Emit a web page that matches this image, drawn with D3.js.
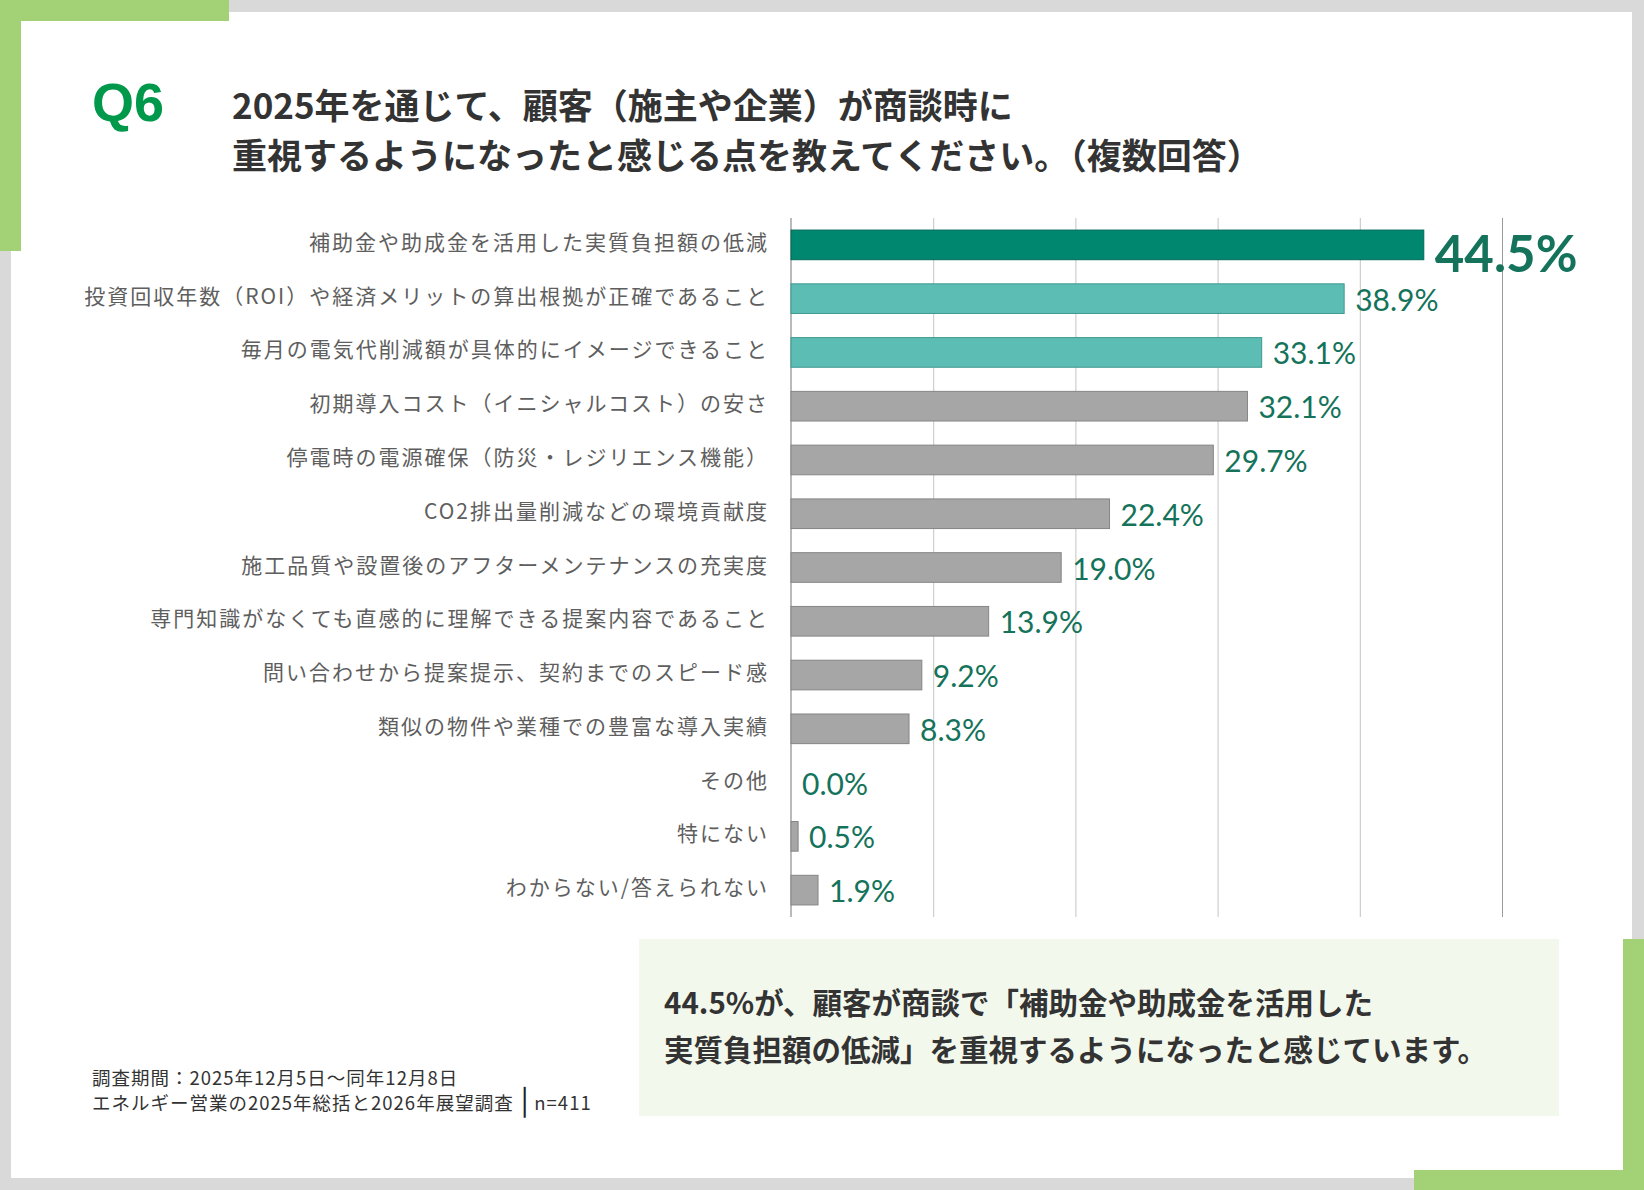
<!DOCTYPE html>
<html lang="ja">
<head>
<meta charset="utf-8">
<title>Q6</title>
<script src="https://cdn.jsdelivr.net/npm/d3@7"></script>
<style>
  html, body { margin: 0; padding: 0; background: #d9d9d9; }
  svg { display: block; }
  .jp { font-family: "Noto Sans CJK JP", "Noto Sans", sans-serif; }
  .num { font-family: Lato, "Open Sans", sans-serif; }
</style>
</head>
<body>
<div id="chart"></div>
<script>
// Q6 bar chart
const width = 1644;
const height = 1190;

const categories = [
  "補助金や助成金を活用した実質負担額の低減",
  "投資回収年数（ROI）や経済メリットの算出根拠が正確であること",
  "毎月の電気代削減額が具体的にイメージできること",
  "初期導入コスト（イニシャルコスト）の安さ",
  "停電時の電源確保（防災・レジリエンス機能）",
  "CO2排出量削減などの環境貢献度",
  "施工品質や設置後のアフターメンテナンスの充実度",
  "専門知識がなくても直感的に理解できる提案内容であること",
  "問い合わせから提案提示、契約までのスピード感",
  "類似の物件や業種での豊富な導入実績",
  "その他",
  "特にない",
  "わからない/答えられない"
];
const values = [44.5, 38.9, 33.1, 32.1, 29.7, 22.4, 19.0, 13.9, 9.2, 8.3, 0.0, 0.5, 1.9];
const gridTicks = [10, 20, 30, 40, 50];

const titleLines = [
  "2025年を通じて、顧客（施主や企業）が商談時に",
  "重視するようになったと感じる点を教えてください。（複数回答）"
];
const calloutLines = [
  "44.5%が、顧客が商談で「補助金や助成金を活用した",
  "実質負担額の低減」を重視するようになったと感じています。"
];
const footerLines = [
  "調査期間：2025年12月5日～同年12月8日",
  "エネルギー営業の2025年総括と2026年展望調査│n=411"
];

const frameGreen = "#a3d176";
const textDark = "#333333";
const valueGreen = "#14735a";

const svg = d3.select("#chart")
  .append("svg")
  .attr("width", width)
  .attr("height", height);

// frame: grey page, white card, green corner brackets
svg.append("rect").attr("width", width).attr("height", height).attr("fill", "#d9d9d9");
svg.append("rect")
  .attr("x", 11).attr("y", 12)
  .attr("width", 1621).attr("height", 1166)
  .attr("fill", "#ffffff");
svg.append("rect").attr("x", 0).attr("y", 0).attr("width", 229).attr("height", 21).attr("fill", frameGreen);
svg.append("rect").attr("x", 0).attr("y", 0).attr("width", 21).attr("height", 251).attr("fill", frameGreen);
svg.append("rect").attr("x", 1623).attr("y", 939).attr("width", 21).attr("height", 251).attr("fill", frameGreen);
svg.append("rect").attr("x", 1414).attr("y", 1170).attr("width", 230).attr("height", 20).attr("fill", frameGreen);

// title
svg.append("text")
  .attr("x", 92).attr("y", 121)
  .attr("font-family", "'Liberation Sans', Arial, sans-serif")
  .attr("font-weight", "bold")
  .attr("font-size", 54)
  .attr("fill", "#00984a")
  .text("Q6");

svg.append("g")
  .selectAll("text")
  .data(titleLines)
  .enter()
  .append("text")
  .attr("class", "jp")
  .attr("x", 232)
  .attr("y", (d, i) => 103 + i * 50)
  .attr("dominant-baseline", "central")
  .attr("font-size", 35)
  .attr("font-weight", "bold")
  .attr("fill", textDark)
  .text(d => d);

// scales
const x = d3.scaleLinear()
  .domain([0, 50])
  .range([791, 1502]);

const y = d3.scaleBand()
  .domain(categories)
  .range([218, 917])
  .paddingInner(0.43)
  .paddingOuter(0.215);

// vertical gridlines
const grid = svg.append("g")
  .attr("transform", `translate(0, ${y.range()[1]})`)
  .call(d3.axisBottom(x)
    .tickValues(gridTicks)
    .tickSize(-(y.range()[1] - y.range()[0]))
    .tickFormat(""));
grid.select(".domain").remove();
grid.selectAll(".tick line")
  .attr("stroke", d => d === 50 ? "#9a9a9a" : "#c4c4c4")
  .attr("stroke-width", 1);

// zero axis line
svg.append("line")
  .attr("x1", x(0)).attr("x2", x(0))
  .attr("y1", y.range()[0]).attr("y2", y.range()[1])
  .attr("stroke", "#8c8c8c")
  .attr("stroke-width", 1.2);

// bars
const fillFor = i => i === 0 ? "#00876f" : (i < 3 ? "#5bbdb3" : "#a6a6a6");
const strokeFor = i => i === 0 ? "#006a57" : (i < 3 ? "#3f9990" : "#858585");
const rows = values.map((v, i) => ({ v, i, c: categories[i] }));

svg.append("g")
  .attr("class", "bars")
  .selectAll("rect")
  .data(rows.filter(d => d.v > 0))
  .enter()
  .append("rect")
  .attr("x", x(0))
  .attr("y", d => y(d.c) + 0.5)
  .attr("width", d => x(d.v) - x(0))
  .attr("height", y.bandwidth() - 1)
  .attr("fill", d => fillFor(d.i))
  .attr("stroke", d => strokeFor(d.i))
  .attr("stroke-width", 1);

// category labels
const labelSpacing = 2;
svg.append("g")
  .selectAll("text")
  .data(categories)
  .enter()
  .append("text")
  .attr("class", "jp")
  .attr("x", 767 + labelSpacing)
  .attr("y", d => y(d) + y.bandwidth() / 2 - 4)
  .attr("text-anchor", "end")
  .attr("dominant-baseline", "central")
  .attr("font-size", 21)
  .attr("letter-spacing", labelSpacing)
  .attr("fill", "#5e5e5e")
  .text(d => d);

// value labels
svg.append("g")
  .selectAll("text")
  .data(rows)
  .enter()
  .append("text")
  .attr("class", "num")
  .attr("x", d => x(d.v) + 11)
  .attr("y", d => y(d.c) + y.bandwidth() / 2 + (d.i === 0 ? 27 : 12))
  .attr("font-size", d => d.i === 0 ? 51 : 30)
  .attr("font-weight", d => d.i === 0 ? "bold" : "normal")
  .attr("fill", valueGreen)
  .text(d => d.v.toFixed(1) + "%");

// callout box
svg.append("rect")
  .attr("x", 639).attr("y", 939)
  .attr("width", 920).attr("height", 177)
  .attr("fill", "#f3f8ed");

svg.append("g")
  .selectAll("text")
  .data(calloutLines)
  .enter()
  .append("text")
  .attr("class", "jp")
  .attr("x", 664)
  .attr("y", (d, i) => 1001 + i * 47)
  .attr("dominant-baseline", "central")
  .attr("font-size", 29.5)
  .attr("font-weight", "bold")
  .attr("fill", textDark)
  .text(d => d);

// footer (separator drawn as a tall bar glyph)
const footer = svg.append("g")
  .selectAll("text")
  .data(footerLines)
  .enter()
  .append("text")
  .attr("class", "jp")
  .attr("x", 92)
  .attr("y", (d, i) => 1077 + i * 25)
  .attr("dominant-baseline", "central")
  .attr("font-size", 18.5)
  .attr("letter-spacing", 1)
  .attr("fill", textDark);

footer.each(function(d) {
  const parts = d.split("│");
  const t = d3.select(this);
  parts.forEach((p, k) => {
    if (k > 0) {
      t.append("tspan")
        .attr("font-family", "'DejaVu Sans', sans-serif")
        .attr("font-size", 26)
        .attr("dx", 3)
        .attr("fill", "#222")
        .text("│");
      t.append("tspan").attr("dx", 1).text(p);
    } else {
      t.append("tspan").text(p);
    }
  });
});
</script>
</body>
</html>
